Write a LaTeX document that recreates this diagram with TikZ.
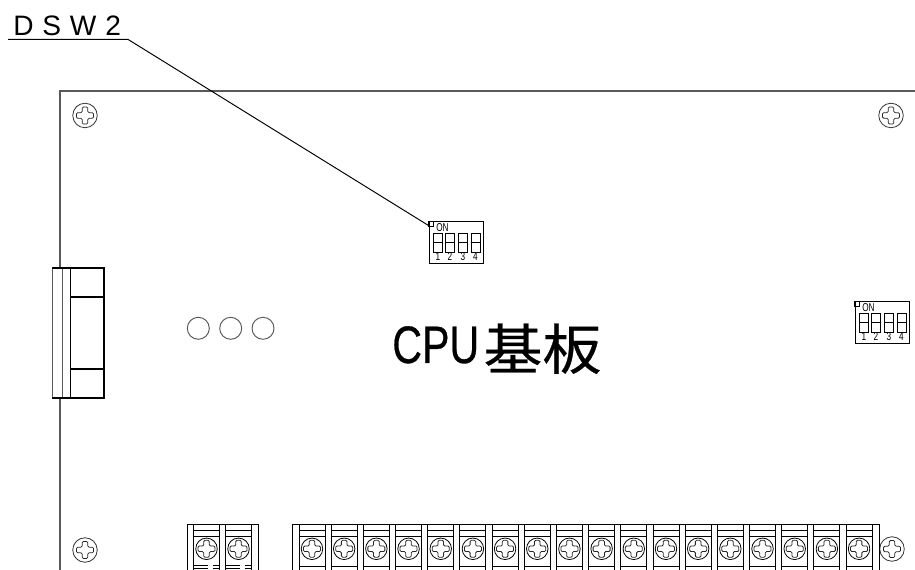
\documentclass[tikz,border=0pt]{standalone}
\usepackage{fontspec}
\setmainfont{Liberation Sans}
\newfontfamily\cjkfont[FakeBold=0.5]{Noto Sans CJK JP}
\newfontfamily\cpufont[FakeBold=0.6]{Liberation Sans}
\usetikzlibrary{positioning}
\tikzset{
  board/.style={draw=black!65,line width=0.6pt},
  screw/.style={circle,draw=black!80,line width=0.45pt,minimum size=24.5*0.2mm,inner sep=0pt},
  tscrew/.style={circle,draw=black,line width=0.45pt,minimum size=21.5*0.2mm,inner sep=0pt},
  lamp/.style={circle,draw=black!65,line width=0.55pt,minimum size=22*0.2mm,inner sep=0pt},
  lever/.style={rectangle,draw=black,line width=0.55pt,minimum width=9*0.2mm,minimum height=19*0.2mm,inner sep=0pt},
  swbody/.style={rectangle,draw=black,line width=0.55pt,minimum width=54*0.2mm,minimum height=42*0.2mm,inner sep=0pt},
  swtext/.style={font=\fontsize{6.5}{6.5}\selectfont,inner sep=0pt},
  lbl/.style={inner sep=0pt}
}
\newcommand{\cross}[1]{%
  \draw[line width=0.45pt,black!85,rounded corners=0.7pt,shift={(#1)}]
    (-2.8,-8.5) -- (2.8,-8.5) -- (2.8,-2.8) -- (8.5,-2.8) -- (8.5,2.8) -- (2.8,2.8) -- (2.8,8.5)
    -- (-2.8,8.5) -- (-2.8,2.8) -- (-8.5,2.8) -- (-8.5,-2.8) -- (-2.8,-2.8) -- cycle;}
\newcommand{\dipswitch}[2]{%
  \node[swbody,anchor=north west] (#1) at (#2) {};
  \draw[line width=0.55pt,shift={(#1.north west)}] (0,0) rectangle (5,5);
  \node[swtext] at ([xshift=14*0.2mm,yshift=-7*0.2mm]#1.north west) {\scalebox{0.72}[1]{ON}};
  \foreach \n/\dx in {1/9.5,2/21.5,3/34.5,4/47}{
    \node[lever] (#1l\n) at ([xshift=\dx*0.2mm,yshift=-21.5*0.2mm]#1.north west) {};
    \draw[line width=0.55pt] (#1l\n.west) -- (#1l\n.east);
    \node[swtext] at ([xshift=\dx*0.2mm,yshift=-36*0.2mm]#1.north west) {\scalebox{0.72}[1]{\n}};
  }}
\begin{document}
\begin{tikzpicture}[x=0.2mm,y=-0.2mm]
  \useasboundingbox (0,0) rectangle (915,570);
  \clip (0,0) rectangle (915,570);
  % board
  \draw[board] (60,268) -- (60,91) -- (915,91);
  \draw[board] (60,398) -- (60,570);
  % connector
  \draw[line width=0.5pt,black!65] (52,268) -- (52,398);
  \draw[line width=0.5pt,black!65] (62,268) -- (62,398);
  \draw[line width=0.7pt] (52,268) -- (104,268) -- (104,398) -- (52,398);
  \draw[line width=0.8pt] (70.5,268) -- (70.5,398);
  \draw[line width=0.6pt] (70.5,297) -- (104,297);
  \draw[line width=1pt] (70.5,369) -- (104,369);
  % screws
  \foreach \name/\x/\y in {s1/85/115.5,s2/891/115.5,s3/85/550,s4/892/549}{
    \node[screw] (\name) at (\x,\y) {};
    \cross{\x,\y}
  }
  % lamps
  \node[lamp] (led1) at (198.3,328.3) {};
  \node[lamp] (led2) at (230.7,328.3) {};
  \node[lamp] (led3) at (263,328.3) {};
  % switches
  \dipswitch{dsw2}{428.5,221}
  \dipswitch{dsw1}{854.5,301}
  % leader
  \node[lbl,font=\fontsize{16}{16}\selectfont,anchor=base west] (dswlabel) at (13,36)
    {D\hspace{5pt}S\hspace{5pt}W\hspace{5pt}2};
  \coordinate (leadl) at (8,39.4);
  \coordinate (leadr) at (128,39.4);
  \coordinate (dswcorner) at ([yshift=-4.5*0.2mm]dsw2.north west);
  \draw[line width=0.55pt] (leadl) -- (leadr) -- (dswcorner);
  % title
  \node[lbl,anchor=base west] (cputitle) at (392,369.5)
    {\fontsize{30}{30}\selectfont\raisebox{3.7pt}{\scalebox{0.78}[1]{\cpufont CPU}}\hspace{2.5pt}\fontsize{33.5}{33.5}\selectfont\scalebox{1}[0.93]{\cjkfont 基板}};
  % terminals
  \draw[line width=0.55pt] (187,570) -- (187,524.5) -- (258,524.5) -- (258,570);
  \draw[line width=0.55pt] (292,570) -- (292,524.5) -- (879,524.5) -- (879,570);
  \foreach \x in {206.5,238.5}{
    \draw[line width=0.5pt] (\x-13,570) -- (\x-13,524.5);
    \draw[line width=0.5pt] (\x+13,570) -- (\x+13,524.5);
    \draw[line width=0.45pt] (\x-13,530.5) -- (\x+13,530.5);
    \draw[line width=0.45pt] (\x-13,536.5) -- (\x+13,536.5);
    \draw[line width=0.45pt,dash pattern=on 8pt off 3pt] (\x-13,565.5) -- (\x+13,565.5);
    \draw[line width=0.45pt,dash pattern=on 8pt off 3pt] (\x-13,568.5) -- (\x+13,568.5);
    \node[tscrew] (ta\x) at (\x,548.8) {};
    \cross{\x,548.8}
  }
  \foreach \i in {0,...,17}{
    \pgfmathsetmacro{\x}{312+32.18*\i}
    \draw[line width=0.5pt] (\x-13,570) -- (\x-13,524.5);
    \draw[line width=0.5pt] (\x+13,570) -- (\x+13,524.5);
    \draw[line width=0.45pt] (\x-13,530.5) -- (\x+13,530.5);
    \draw[line width=0.45pt] (\x-13,536.5) -- (\x+13,536.5);
    \draw[line width=0.45pt] (\x-13,566) -- (\x+13,566);
    \node[tscrew] (tb\i) at (\x,548.8) {};
    \cross{\x,548.8}
  }
\end{tikzpicture}
\end{document}
